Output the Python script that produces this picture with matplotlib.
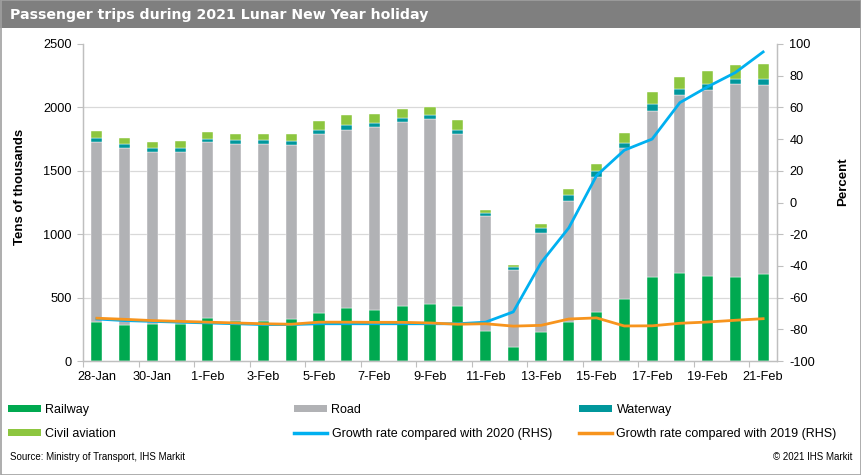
import numpy as np
import matplotlib.pyplot as plt
from matplotlib.patches import Rectangle
from matplotlib.lines import Line2D

plt.rcParams['font.family'] = ['Liberation Sans', 'DejaVu Sans']
plt.rcParams['axes.unicode_minus'] = False

# Days of the holiday period (28 Jan - 21 Feb 2021)
days = ['28-Jan', '29-Jan', '30-Jan', '31-Jan'] + ['%d-Feb' % d for d in range(1, 22)]

# Passenger trips, tens of thousands
railway = [307, 283, 294, 294, 341, 312, 318, 333, 375, 420, 402, 430, 446,
           436, 239, 110, 226, 305, 384, 492, 663, 691, 668, 663, 689]
road = [1423, 1397, 1354, 1354, 1384, 1399, 1391, 1371, 1415, 1404, 1443, 1452, 1460,
        1354, 906, 604, 785, 958, 1070, 1185, 1309, 1407, 1469, 1519, 1488]
waterway = [31, 31, 32, 32, 29, 32, 31, 31, 34, 35, 32, 32, 34,
            34, 26, 26, 36, 50, 47, 45, 52, 47, 48, 42, 47]
aviation = [53, 50, 50, 58, 52, 47, 53, 53, 69, 78, 71, 71, 66,
            74, 23, 19, 35, 47, 55, 74, 100, 95, 102, 108, 118]

# Growth rates, percent (RHS)
growth_2020 = [-73.5, -74.5, -75, -75.5, -76, -76.5, -77, -77, -76.5, -76.5, -76.5, -76.5, -76.5,
               -76.5, -75.5, -69, -38, -16, 17, 33, 40, 63, 73, 82, 95]
growth_2019 = [-73, -73.7, -74.5, -75, -75.5, -76, -76.5, -76.8, -75.5, -75.5, -75.6, -75.6, -76,
               -76.8, -76.5, -78, -77.5, -73.5, -72.8, -77.9, -77.8, -76.2, -75.4, -74.3, -73.3]

c_rail = '#00a950'
c_road = '#b1b2b5'
c_water = '#00979c'
c_air = '#8dc63f'
c_2020 = '#00b0f0'
c_2019 = '#f7941d'
c_axis = '#bfbfbf'

W, H = 862, 475
fig = plt.figure(figsize=(W / 100, H / 100), dpi=100)

# title bar and frame
fig.patches.append(Rectangle((0, 1 - 28 / H), 1, 28 / H, transform=fig.transFigure,
                             facecolor='#7f7f7f', edgecolor='none', zorder=0))
fig.patches.append(Rectangle((0.0006, 0.001), 0.9985, 0.998, transform=fig.transFigure,
                             fill=False, edgecolor='#a0a0a0', lw=1.2, zorder=0))
fig.text(10 / W, 1 - 14.5 / H, 'Passenger trips during 2021 Lunar New Year holiday',
         color='white', fontsize=10.2, fontweight='bold', family='Liberation Sans Narrow',
         va='center', ha='left')

ax = fig.add_axes([83 / W, (H - 361) / H, (777 - 83) / W, (361 - 44) / H])
x = np.arange(len(days))
bw = 0.4
b1 = np.array(railway)
b2 = b1 + np.array(road)
b3 = b2 + np.array(waterway)
ax.bar(x, railway, bw, color=c_rail, edgecolor='white', lw=0.3, zorder=2)
ax.bar(x, road, bw, bottom=b1, color=c_road, edgecolor='white', lw=0.3, zorder=2)
ax.bar(x, waterway, bw, bottom=b2, color=c_water, edgecolor='white', lw=0.3, zorder=2)
ax.bar(x, aviation, bw, bottom=b3, color=c_air, edgecolor='white', lw=0.3, zorder=2)

ax.set_xlim(-0.5, len(days) - 0.5)
ax.set_ylim(0, 2500)
yt = np.arange(0, 2501, 500)
ax.set_yticks(yt)
for v in yt[1:-1]:
    ax.axhline(v, color='#d9d9d9', lw=0.9, zorder=1)

ax.set_xticks(x[::2])
ax.set_xticklabels(days[::2])
ax.set_xticks(np.arange(-0.5, len(days) - 1, 2), minor=True)
ax.tick_params(axis='x', which='major', length=0, pad=7, labelsize=9.2)
ax.tick_params(axis='x', which='minor', length=4, color=c_axis, width=0.8)
ax.tick_params(axis='y', length=4, color=c_axis, width=0.8, pad=4, labelsize=9.2)
ax.spines['top'].set_visible(False)
for s in ['left', 'bottom', 'right']:
    ax.spines[s].set_color(c_axis)
    ax.spines[s].set_linewidth(0.9)

ax2 = ax.twinx()
ax2.plot(x, growth_2020, color=c_2020, lw=2, solid_joinstyle='round', zorder=3)
ax2.plot(x, growth_2019, color=c_2019, lw=2, solid_joinstyle='round', zorder=3)
ax2.set_ylim(-100, 100)
ax2.set_yticks(np.arange(-100, 101, 20))
ax2.tick_params(axis='y', length=4, color=c_axis, width=0.8, pad=5, labelsize=9.2)
ax2.spines['top'].set_visible(False)
for s in ['left', 'bottom', 'right']:
    ax2.spines[s].set_color(c_axis)
    ax2.spines[s].set_linewidth(0.9)

fig.text(20 / W, 1 - 187 / H, 'Tens of thousands', rotation=90, fontsize=9.5,
         fontweight='bold', ha='center', va='center')
fig.text(843 / W, 1 - 182 / H, 'Percent', rotation=90, fontsize=9.5,
         fontweight='bold', ha='center', va='center')

# legend, three columns placed at fixed positions
def patch(c):
    return Rectangle((0, 0), 1, 1, facecolor=c, edgecolor='none')

cols = [
    ([patch(c_rail), patch(c_air)], ['Railway', 'Civil aviation'], 8),
    ([patch(c_road), Line2D([], [], color=c_2020, lw=2.5)],
     ['Road', 'Growth rate compared with 2020 (RHS)'], 294),
    ([patch(c_water), Line2D([], [], color=c_2019, lw=2.5)],
     ['Waterway', 'Growth rate compared with 2019 (RHS)'], 579),
]
for hs, ls, xp in cols:
    fig.legend(hs, ls, loc='upper left', bbox_to_anchor=(xp / W, 1 - 404 / H),
               frameon=False, fontsize=9, handlelength=2.65, handleheight=0.5,
               handletextpad=0.35, labelspacing=0.95, borderpad=0, borderaxespad=0)

fig.text(10 / W, 1 - 457 / H, 'Source: Ministry of Transport, IHS Markit', fontsize=7,
         va='center', ha='left')
fig.text(852 / W, 1 - 457 / H, '\u00a9 2021 IHS Markit', fontsize=7, va='center', ha='right')

fig.savefig('out.png', dpi=100)
